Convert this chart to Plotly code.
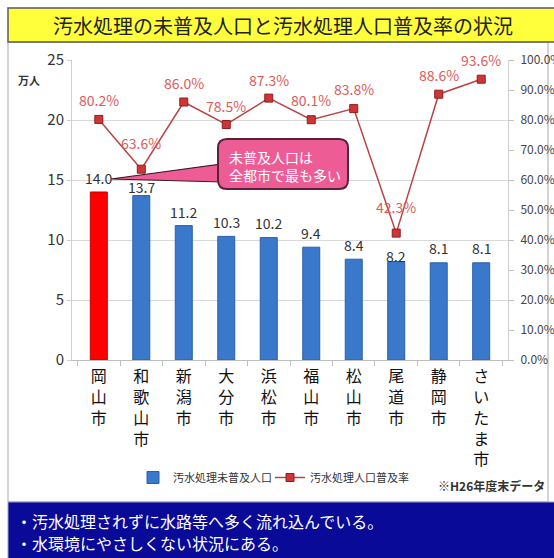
import plotly.graph_objects as go

# --- data -------------------------------------------------------------
cities = ["岡山市", "和歌山市", "新潟市", "大分市", "浜松市",
          "福山市", "松山市", "尾道市", "静岡市", "さいたま市"]
unserved_pop = [14.0, 13.7, 11.2, 10.3, 10.2, 9.4, 8.4, 8.2, 8.1, 8.1]   # 万人
coverage_pct = [80.2, 63.6, 86.0, 78.5, 87.3, 80.1, 83.8, 42.3, 88.6, 93.6]  # %
highlight_city = "岡山市"

title_text = "汚水処理の未普及人口と汚水処理人口普及率の状況"
bar_name = "汚水処理未普及人口"
line_name = "汚水処理人口普及率"
note_text = "※H26年度末データ"
callout_lines = ["未普及人口は", "全都市で最も多い"]
summary_lines = ["・汚水処理されずに水路等へ多く流れ込んでいる。",
                 "・水環境にやさしくない状況にある。"]

# --- page geometry helpers (pixel -> paper fraction) ---------------------
W, H = 554, 558


def px(x):
    return x / W


def py(y):
    return 1 - y / H


JP = "Noto Sans CJK JP"
NUM = "Noto Sans CJK JP"

tick_text = ["<br>".join(list(c)) for c in cities]
pct_frac = [v / 100 for v in coverage_pct]
hi_idx = cities.index(highlight_city)

fig = go.Figure()

# regular bars (blue)
fig.add_trace(go.Bar(
    x=[c for c in cities if c != highlight_city],
    y=[v for c, v in zip(cities, unserved_pop) if c != highlight_city],
    name=bar_name, legend="legend",
    marker=dict(color="#3A78CC", line=dict(color="#2A5FA8", width=1)),
    width=0.4, yaxis="y",
))
# highlighted city (red)
fig.add_trace(go.Bar(
    x=[highlight_city], y=[unserved_pop[hi_idx]], name=bar_name,
    marker=dict(color="#FF0000", line=dict(color="#C00000", width=1)),
    width=0.4, yaxis="y", showlegend=False,
))

fig.add_trace(go.Scatter(
    x=cities, y=pct_frac, name=line_name, yaxis="y2", legend="legend2",
    mode="lines+markers",
    line=dict(color="#B84444", width=1.5),
    marker=dict(symbol="square", size=8, color="#D03535",
                line=dict(color="#8E1E1E", width=1)),
))

annotations = []

# value labels above bars (small lifts where labels would collide)
bar_label_lift = [14, 9, 14, 14, 15, 14, 14, 6, 15, 15]
for c, v, s in zip(cities, unserved_pop, bar_label_lift):
    annotations.append(dict(
        x=c, y=v, xref="x", yref="y", text=f"{v:.1f}", showarrow=False,
        yshift=s, yanchor="middle",
        font=dict(family=NUM, size=14, color="#333333"),
    ))

# percentage labels above line markers
pct_label_lift = [19, 26, 19, 19, 18, 20, 20, 26, 19, 19]
for c, v, s in zip(cities, coverage_pct, pct_label_lift):
    annotations.append(dict(
        x=c, y=v / 100, xref="x", yref="y2", text=f"{v:.1f}%", showarrow=False,
        yshift=s, yanchor="middle",
        font=dict(family=NUM, size=14, color="#E05A5A"),
    ))

# title
annotations.append(dict(
    x=px(283), y=py(25), xref="paper", yref="paper", text=title_text,
    showarrow=False, xanchor="center", yanchor="middle",
    font=dict(family=JP, size=20, color="#222222"),
))

# unit label for the left axis
annotations.append(dict(
    x=px(29), y=py(80), xref="paper", yref="paper", text="<b>万人</b>",
    showarrow=False, xanchor="center", yanchor="middle",
    font=dict(family=JP, size=11, color="#333333"),
))

# callout text
annotations.append(dict(
    x=px(227), y=py(166), xref="paper", yref="paper",
    text="<br>".join(callout_lines), showarrow=False, align="left",
    xanchor="left", yanchor="middle",
    font=dict(family=JP, size=14, color="#FFFFFF"),
))

# data note
annotations.append(dict(
    x=px(491), y=py(485), xref="paper", yref="paper", text=f"<b>{note_text}</b>",
    showarrow=False, xanchor="center", yanchor="middle",
    font=dict(family=JP, size=12, color="#333333"),
))

# summary text in the blue band
for i, line in enumerate(summary_lines):
    annotations.append(dict(
        x=px(14), y=py(521 + 22 * i), xref="paper", yref="paper", text=line,
        showarrow=False, xanchor="left", yanchor="middle",
        font=dict(family=JP, size=16, color="#FFFFFF"),
    ))

shapes = [
    # outer panel border
    dict(type="rect", xref="paper", yref="paper",
         x0=px(8), x1=px(548), y0=py(502), y1=py(42),
         line=dict(color="#A8A8A8", width=1), fillcolor="rgba(0,0,0,0)",
         layer="below"),
    # title bar
    dict(type="rect", xref="paper", yref="paper",
         x0=px(8), x1=px(560), y0=py(42), y1=py(8),
         line=dict(color="#5A5A5A", width=1.5), fillcolor="#FFFF3C",
         layer="below"),
    # blue summary band
    dict(type="rect", xref="paper", yref="paper",
         x0=px(8), x1=px(560), y0=py(560), y1=py(502),
         line=dict(color="#9A9AC8", width=1), fillcolor="#0A0A98",
         layer="below"),
]

# callout tail (thin wedge pointing at the 14.0 label)
tail = (f"M {px(111)} {py(179)} L {px(222)} {py(164)} "
        f"L {px(222)} {py(182)} Z")
shapes.append(dict(type="path", xref="paper", yref="paper", path=tail,
                   fillcolor="#EE5C96", line=dict(color="#3A1A24", width=1.2)))

# rounded callout box
x0, x1, y0, y1, r = 218, 348, 139, 189, 9
rx, ry = r / W, r / H
box = (f"M {px(x0)+rx} {py(y0)} L {px(x1)-rx} {py(y0)} "
       f"Q {px(x1)} {py(y0)} {px(x1)} {py(y0)-ry} "
       f"L {px(x1)} {py(y1)+ry} Q {px(x1)} {py(y1)} {px(x1)-rx} {py(y1)} "
       f"L {px(x0)+rx} {py(y1)} Q {px(x0)} {py(y1)} {px(x0)} {py(y1)+ry} "
       f"L {px(x0)} {py(y0)-ry} Q {px(x0)} {py(y0)} {px(x0)+rx} {py(y0)} Z")
shapes.append(dict(type="path", xref="paper", yref="paper", path=box,
                   fillcolor="#EE5C96", line=dict(color="#5A2238", width=2)))

legend_style = dict(
    orientation="h", xanchor="left", yanchor="top",
    font=dict(family=JP, size=11, color="#333333"),
    bgcolor="rgba(0,0,0,0)", itemwidth=30,
)

fig.update_layout(
    width=W, height=H, autosize=False,
    margin=dict(l=0, r=0, t=0, b=0, pad=0, autoexpand=False),
    paper_bgcolor="#FFFFFF", plot_bgcolor="#FFFFFF",
    barmode="overlay",
    xaxis=dict(
        domain=[px(72), px(508)], type="category",
        categoryorder="array", categoryarray=cities,
        tickmode="array", tickvals=cities, ticktext=tick_text,
        tickfont=dict(family=JP, size=16, color="#111111"),
        ticklabelstandoff=2,
        showline=True, linecolor="#BFBFBF", linewidth=1,
        ticks="outside", tickson="boundaries", ticklen=5, tickcolor="#BFBFBF",
        showgrid=False,
    ),
    yaxis=dict(
        domain=[py(360), py(60)], range=[0, 25], dtick=5,
        tickfont=dict(family=NUM, size=15, color="#333333"),
        showgrid=True, gridcolor="#D9D9D9", gridwidth=1,
        showline=True, linecolor="#D0D0D0", zeroline=False,
        ticks="outside", ticklen=4, tickcolor="#D0D0D0",
    ),
    yaxis2=dict(
        overlaying="y", side="right", range=[0, 1], dtick=0.1,
        tickformat=".1%",
        tickfont=dict(family=NUM, size=12, color="#444444"),
        ticklabelstandoff=4,
        showgrid=False, showline=True, linecolor="#D0D0D0", zeroline=False,
        ticks="outside", ticklen=5, tickcolor="#BFBFBF",
    ),
    legend=dict(x=px(133), y=py(463), **legend_style),
    legend2=dict(x=px(270), y=py(463), **legend_style),
    annotations=annotations,
    shapes=shapes,
)

fig.write_html("out.html")
